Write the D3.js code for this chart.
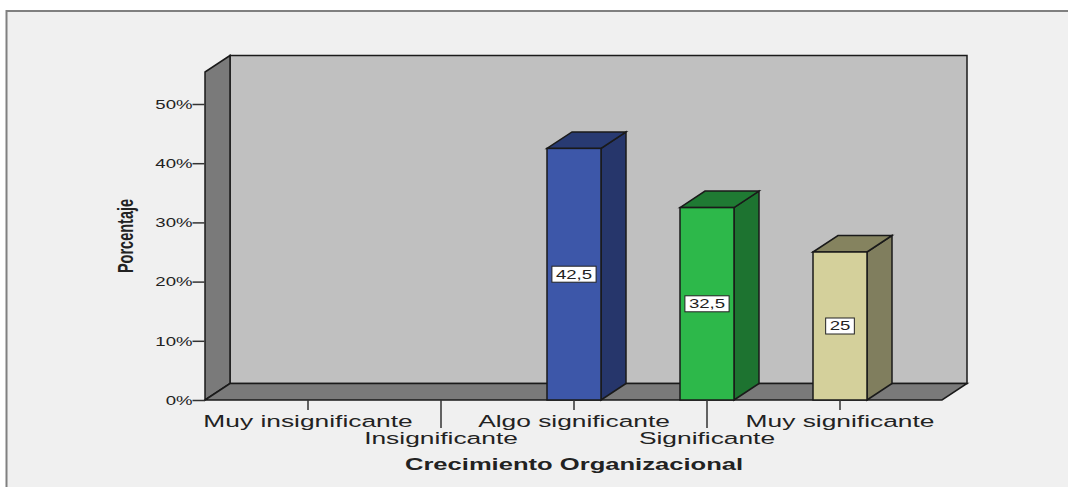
<!DOCTYPE html>
<html>
<head>
<meta charset="utf-8">
<script src="https://cdn.jsdelivr.net/npm/d3@7"></script>
<style>
  html, body { margin: 0; padding: 0; background: #ffffff; }
  svg { display: block; }
  text { font-family: "Liberation Sans", Arial, sans-serif; fill: #222; }
</style>
</head>
<body>
<svg id="chart" width="1068" height="487"></svg>
<script>
// Frequencies (percent) for "Crecimiento Organizacional"
const categories = ["Muy insignificante", "Insignificante", "Algo significante", "Significante", "Muy significante"];
const percentages = [0, 0, 42.5, 32.5, 25];
const yTicks = [0, 10, 20, 30, 40, 50];
const yTitle = "Porcentaje";
const xTitle = "Crecimiento Organizacional";

// Bar face colours: front, side, top
const palette = [
  { front: "#5a6fb8", side: "#2e3d74", top: "#2e3d74" },
  { front: "#7a9a50", side: "#46592e", top: "#46592e" },
  { front: "#3d57a9", side: "#26366b", top: "#283a72" },
  { front: "#2db84a", side: "#1d7330", top: "#1f7a33" },
  { front: "#d4d09b", side: "#807e5e", top: "#85835f" }
];

const svg = d3.select("#chart");
const SX = 1.55;            // horizontal text stretch of this chart style
const DX = 25, DY = 16.5;   // 3D depth offset

// Scales
const y = d3.scaleLinear().domain([0, 50]).range([400, 104]);
const x = d3.scalePoint().domain(categories).range([308, 840]);
const barW = 54;
const plotLeft = 205, plotRight = 942, plotTopFront = 72;

const fmt = d3.formatLocale({ decimal: ",", thousands: ".", grouping: [3], currency: ["", ""] });
const valueFmt = v => (Number.isInteger(v) ? String(v) : fmt.format(".1f")(v));

// Outer frame
svg.append("rect")
  .attr("x", 6.5).attr("y", 11).attr("width", 1100).attr("height", 500)
  .attr("fill", "#f0f0f0").attr("stroke", "#808080").attr("stroke-width", 2);

const y0 = y(0);
const wallStroke = { stroke: "#1a1a1a", "stroke-width": 1.5, "stroke-linejoin": "miter" };
function styled(sel, st) { Object.entries(st).forEach(([k, v]) => sel.attr(k, v)); return sel; }

// Back wall
styled(svg.append("polygon")
  .attr("points", [[plotLeft + DX, plotTopFront - DY], [plotRight + DX, plotTopFront - DY],
                   [plotRight + DX, y0 - DY], [plotLeft + DX, y0 - DY]].join(" "))
  .attr("fill", "#c0c0c0"), wallStroke);

// Left wall
styled(svg.append("polygon")
  .attr("points", [[plotLeft, y0], [plotLeft, plotTopFront], [plotLeft + DX, plotTopFront - DY],
                   [plotLeft + DX, y0 - DY]].join(" "))
  .attr("fill", "#7a7a7a"), wallStroke);

// Floor
styled(svg.append("polygon")
  .attr("points", [[plotLeft, y0], [plotLeft + DX, y0 - DY], [plotRight + DX, y0 - DY],
                   [plotRight, y0]].join(" "))
  .attr("fill", "#7a7a7a"), wallStroke);

// Y axis
const yAxis = d3.axisLeft(y).tickValues(yTicks).tickSize(12).tickPadding(0).tickFormat(d => d + "%");
const yg = svg.append("g").attr("transform", `translate(${plotLeft - 0.5},0)`).call(yAxis);
yg.select(".domain").remove();
yg.selectAll(".tick line").attr("stroke", "#333").attr("stroke-width", 1.5);
yg.selectAll(".tick text").each(function () {
  const t = d3.select(this);
  const ty = +t.attr("y") || 0;
  t.attr("x", null).attr("dy", null).attr("y", null)
    .attr("text-anchor", "end")
    .attr("font-size", 12).attr("font-family", "Liberation Sans, Arial, sans-serif")
    .attr("fill", "#333")
    .attr("transform", `translate(-12,${ty + 4.3}) scale(${SX},1)`);
});

// Bars
const bars = svg.append("g");
categories.forEach((c, i) => {
  const v = percentages[i];
  if (!v) return;
  const cx = x(c), xl = cx - barW / 2, xr = cx + barW / 2, yt = y(v);
  const col = palette[i];
  const g = bars.append("g");
  styled(g.append("polygon")
    .attr("points", [[xr, y0], [xr, yt], [xr + DX, yt - DY], [xr + DX, y0 - DY]].join(" "))
    .attr("fill", col.side), wallStroke);
  styled(g.append("polygon")
    .attr("points", [[xl, yt], [xl + DX, yt - DY], [xr + DX, yt - DY], [xr, yt]].join(" "))
    .attr("fill", col.top), wallStroke);
  styled(g.append("rect")
    .attr("x", xl).attr("y", yt).attr("width", barW).attr("height", y0 - yt)
    .attr("fill", col.front), wallStroke);

  // Value label in a white box at the middle of the bar front
  const my = (yt + y0) / 2;
  const lbl = g.append("g").attr("transform", `translate(${cx},${my})`);
  const box = lbl.append("rect").attr("fill", "#fff").attr("stroke", "#222").attr("stroke-width", 1);
  const t = lbl.append("text")
    .attr("text-anchor", "middle").attr("font-size", 12)
    .attr("transform", `translate(0,4.3) scale(${SX},1)`)
    .text(valueFmt(v));
  const w = t.node().getComputedTextLength() * SX + 8;
  box.attr("x", -w / 2).attr("y", -8).attr("width", w).attr("height", 16);
});

// X axis ticks and staggered labels
const xg = svg.append("g");
categories.forEach((c, i) => {
  const cx = x(c);
  const low = i % 2 === 1;
  xg.append("line")
    .attr("x1", cx).attr("x2", cx).attr("y1", y0).attr("y2", low ? 428 : 410)
    .attr("stroke", "#333").attr("stroke-width", 1.5);
  xg.append("text")
    .attr("text-anchor", "middle").attr("font-size", 17).attr("fill", "#222")
    .attr("transform", `translate(${cx},${low ? 444 : 427}) scale(${SX},1)`)
    .text(c);
});

// Axis titles
svg.append("text")
  .attr("text-anchor", "middle").attr("font-size", 16.5).attr("font-weight", "bold")
  .attr("transform", `translate(${(x(categories[0]) + x(categories[4])) / 2},470) scale(${SX},1)`)
  .text(xTitle);

svg.append("text")
  .attr("text-anchor", "middle").attr("font-size", 14.5).attr("font-weight", "bold")
  .attr("fill", "#111")
  .attr("transform", `translate(133,236) scale(${SX},1) rotate(-90)`)
  .text(yTitle);
</script>
</body>
</html>
